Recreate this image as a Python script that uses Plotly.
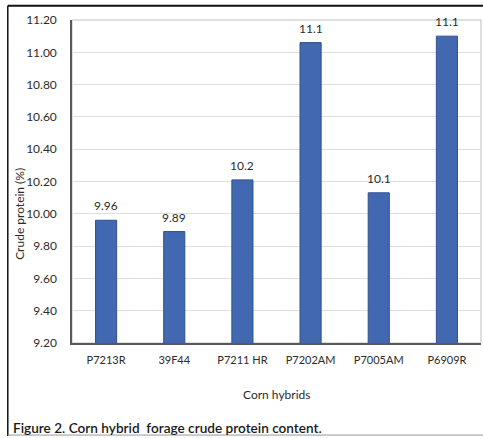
import plotly.graph_objects as go

hybrids = ["P7213R", "39F44", "P7211 HR", "P7202AM", "P7005AM", "P6909R"]
crude_protein = [9.96, 9.89, 10.21, 11.06, 10.13, 11.10]
bar_labels = ["9.96", "9.89", "10.2", "11.1", "10.1", "11.1"]
y_ticks = [9.2, 9.4, 9.6, 9.8, 10.0, 10.2, 10.4, 10.6, 10.8, 11.0, 11.2]

FONT = "Lato, 'Open Sans', sans-serif"
TXT = "#2b2b2b"

fig = go.Figure()
fig.add_trace(go.Bar(
    x=hybrids,
    y=crude_protein,
    marker=dict(color="#4168b0", line=dict(color="#2f528f", width=1)),
    cliponaxis=False,
    showlegend=False,
))

annotations = []
for h, v, lab in zip(hybrids, crude_protein, bar_labels):
    annotations.append(dict(x=h, y=v, xref="x", yref="y", text=lab, showarrow=False,
                            yanchor="bottom", yshift=5,
                            font=dict(family=FONT, size=12, color=TXT)))

# plot-area frame (light grey top/right)
fig.add_shape(type="rect", xref="paper", yref="paper", x0=0, x1=1, y0=0, y1=1,
              line=dict(color="#bfbfbf", width=1), layer="below")
# outer figure frame
fig.add_shape(type="line", xref="paper", yref="paper", x0=-0.157, x1=1.01, y0=1.044, y1=1.044,
              line=dict(color="#111111", width=2))
fig.add_shape(type="line", xref="paper", yref="paper", x0=-0.157, x1=-0.157, y0=1.044, y1=-0.288,
              line=dict(color="#111111", width=1.5))
fig.add_shape(type="line", xref="paper", yref="paper", x0=-0.157, x1=1.01, y0=-0.285, y1=-0.285,
              line=dict(color="#999999", width=1))

annotations += [
    dict(text="Crude protein (%)", xref="paper", yref="paper",
         x=-0.127, y=0.40, xanchor="center", yanchor="middle", textangle=-90, showarrow=False,
         font=dict(family=FONT, size=12, color=TXT)),
    dict(text="Corn hybrids", xref="paper", yref="paper",
         x=0.5, y=-0.16, xanchor="center", yanchor="middle", showarrow=False,
         font=dict(family=FONT, size=12, color=TXT)),
    dict(text="Figure 2. Corn hybrid  forage crude protein content.", xref="paper", yref="paper",
         x=-0.148, y=-0.262, xanchor="left", yanchor="middle", showarrow=False,
         font=dict(family=FONT, size=13.6, color="#1a1a1a", weight=600)),
]

fig.update_layout(
    width=483, height=438,
    margin=dict(l=72, r=2, t=20, b=95),
    paper_bgcolor="white", plot_bgcolor="white",
    bargap=0.69,
    font=dict(family=FONT, size=12, color=TXT),
    xaxis=dict(
        showline=True, linecolor="#595959", linewidth=2,
        ticks="", ticklabelstandoff=6,
        tickfont=dict(family=FONT, size=11, color=TXT),
        showgrid=False,
    ),
    yaxis=dict(
        range=[9.2, 11.2], tickvals=y_ticks, tickformat=".2f",
        showline=True, linecolor="#595959", linewidth=1.5,
        showgrid=True, gridcolor="#dedede", gridwidth=1,
        ticks="", ticklabelstandoff=11,
        tickfont=dict(family=FONT, size=12, color=TXT),
        zeroline=False,
    ),
    annotations=annotations,
)

fig.write_html("out.html", config={"displayModeBar": False},
               post_script="document.body.style.margin='0';")
